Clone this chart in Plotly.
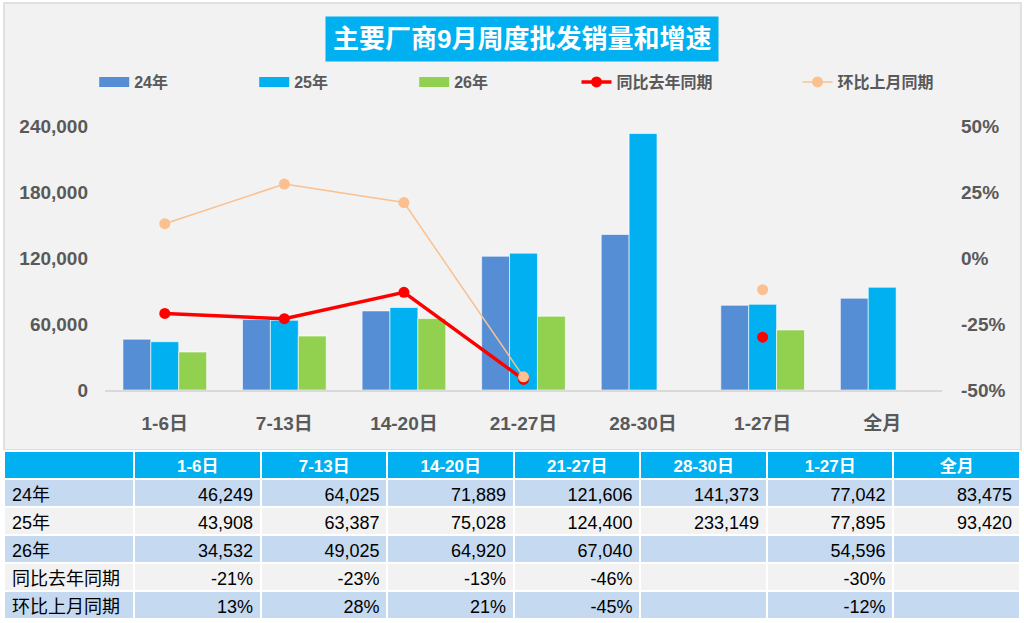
import plotly.graph_objects as go

categories = ["1-6日", "7-13日", "14-20日", "21-27日", "28-30日", "1-27日", "全月"]
sales_24 = [46249, 64025, 71889, 121606, 141373, 77042, 83475]
sales_25 = [43908, 63387, 75028, 124400, 233149, 77895, 93420]
sales_26 = [34532, 49025, 64920, 67040, None, 54596, None]
yoy = [-0.21, -0.23, -0.13, -0.46, None, -0.30, None]
mom = [0.13, 0.28, 0.21, -0.45, None, -0.12, None]
pct_ticks = [-0.5, -0.25, 0, 0.25, 0.5]

W, H = 1024, 623
CJK = "Liberation Sans, Noto Sans CJK SC"
GREY = "#595959"
C24, C25, C26 = "#558ED5", "#00B0F0", "#92D050"

fig = go.Figure()

bar_line = dict(color="rgba(255,255,255,0.6)", width=1)
for name, vals, col in [("24年", sales_24, C24), ("25年", sales_25, C25), ("26年", sales_26, C26)]:
    fig.add_trace(go.Bar(x=categories, y=vals, name=name, marker_color=col,
                         marker_line=bar_line, showlegend=False))
    # wide swatch for the legend, like the Excel one
    fig.add_trace(go.Scatter(x=[None], y=[None], name=name, mode="lines",
                             line=dict(color=col, width=14), legend="legend"))

fig.add_trace(go.Scatter(x=categories, y=yoy, name="同比去年同期", yaxis="y2",
                         mode="lines+markers", line=dict(color="#FF0000", width=3.5),
                         marker=dict(size=11, color="#FF0000"), legend="legend2"))
fig.add_trace(go.Scatter(x=categories, y=mom, name="环比上月同期", yaxis="y2",
                         mode="lines+markers", line=dict(color="#FAC090", width=1.5),
                         marker=dict(size=11, color="#FAC090"), legend="legend2"))

# table under the chart
def fmt_num(v):
    return "" if v is None else f"{v:,}"

def fmt_pct(v):
    return "" if v is None else f"{round(v * 100):.0f}%"

row_names = ["24年", "25年", "26年", "同比去年同期", "环比上月同期"]
rows = [
    [fmt_num(v) for v in sales_24],
    [fmt_num(v) for v in sales_25],
    [fmt_num(v) for v in sales_26],
    [fmt_pct(v) for v in yoy],
    [fmt_pct(v) for v in mom],
]
columns = [row_names] + [[r[i] for r in rows] for i in range(len(categories))]
row_fill = ["#C5D9F1", "#F2F2F2", "#C5D9F1", "#F2F2F2", "#C5D9F1"]

fig.add_trace(go.Table(
    domain=dict(x=[4 / W, 1020 / W], y=[0.0, 1 - 451 / H]),
    columnwidth=[131] + [127] * len(categories),
    header=dict(values=[""] + categories, fill_color="#00B0F0",
                line=dict(color="white", width=2), height=28, align="center",
                font=dict(family=CJK, size=17, color="white", weight="bold")),
    cells=dict(values=columns, fill_color=[row_fill] * (len(categories) + 1),
               line=dict(color="white", width=2), height=28,
               align=["left"] + ["right"] * len(categories),
               font=dict(family="Liberation Sans Narrow, Liberation Sans, Noto Sans CJK SC",
                         size=18, color="black")),
))

fig.update_layout(
    width=W, height=H,
    margin=dict(l=0, r=0, t=0, b=0),
    paper_bgcolor="white",
    plot_bgcolor="rgba(0,0,0,0)",
    barmode="group", bargap=0.3, bargroupgap=0,
    font=dict(family=CJK, color=GREY),
    xaxis=dict(domain=[105 / W, 942 / W], showline=True, linecolor="#D9D9D9", linewidth=2,
               ticks="", ticklabelstandoff=15, automargin=False,
               tickfont=dict(size=19, weight="bold", color=GREY)),
    yaxis=dict(domain=[1 - 390 / H, 1 - 126 / H], range=[0, 240000], dtick=60000,
               tickformat=",", showgrid=False, zeroline=False, automargin=False,
               ticklabelstandoff=16, tickfont=dict(size=19, weight="bold", color=GREY)),
    yaxis2=dict(overlaying="y", side="right", range=[-0.5, 0.5],
                tickvals=pct_ticks, ticktext=[f"{v:.0%}" for v in pct_ticks],
                showgrid=False, zeroline=False, automargin=False,
                anchor="x", ticklabelstandoff=18,
                tickfont=dict(size=19, weight="bold", color=GREY)),
    legend=dict(orientation="h", x=0.092, y=1 - 82 / H, yanchor="middle",
                entrywidth=115, entrywidthmode="pixels", bgcolor="rgba(0,0,0,0)",
                font=dict(size=16, weight="bold", color=GREY)),
    legend2=dict(orientation="h", x=0.563, y=1 - 82 / H, yanchor="middle",
                 entrywidth=176, entrywidthmode="pixels", bgcolor="rgba(0,0,0,0)",
                 font=dict(size=16, weight="bold", color=GREY)),
    shapes=[dict(type="rect", xref="paper", yref="paper", x0=4 / W, x1=1021 / W,
                 y0=1 - 450 / H, y1=1 - 3 / H, fillcolor="#F2F2F2",
                 line=dict(color="#D9D9D9", width=1.5), layer="below")],
    annotations=[dict(text="主要厂商9月周度批发销量和增速", xref="paper", yref="paper",
                      x=522 / W, y=1 - 39 / H, xanchor="center", yanchor="middle",
                      showarrow=False, bgcolor="#00B0F0", borderpad=7,
                      font=dict(family=CJK, size=26, color="white", weight="bold"))],
)

fig.write_html("out.html", config={"displayModeBar": False},
               post_script="document.body.style.margin='0px';")
